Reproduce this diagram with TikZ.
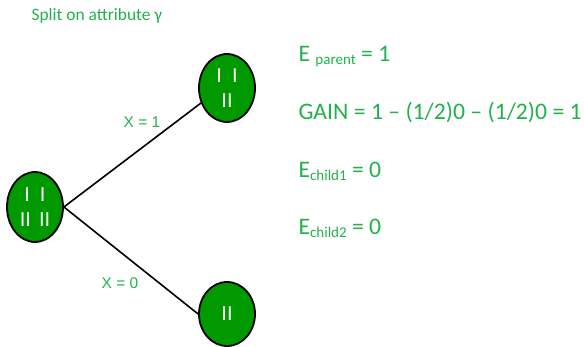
\documentclass[tikz,border=0pt]{standalone}
\usepackage{fontspec}
\usepackage{tikz}
\usetikzlibrary{shapes.geometric}
\setmainfont{Carlito}
\newfontfamily\arialfont{Liberation Sans}
\definecolor{leafgreen}{RGB}{0,153,0}
\definecolor{textgreen}{RGB}{34,177,76}

\tikzset{
  leaf/.style={ellipse, draw=black, line width=1.8pt, fill=leafgreen, inner sep=0pt,
    minimum width=56pt, minimum height=68pt, text=white, align=center,
    font=\arialfont\fontsize{20}{25}\selectfont},
  branch/.style={text=textgreen, font=\arialfont\fontsize{15.5}{18}\selectfont},
  calc/.style={anchor=base west, text=textgreen, font=\fontsize{23.7}{28}\selectfont}
}
\newcommand{\lowsub}[1]{\raisebox{-3pt}{\fontsize{15}{15}\selectfont #1}}

\begin{document}
\begin{tikzpicture}[x=1pt, y=-1pt]
  \useasboundingbox (0,0) rectangle (584,347);
  \node[anchor=base west, text=textgreen, font=\fontsize{17.4}{20}\selectfont] (title) at (28,21) {Split on attribute γ};

  \node[leaf, minimum height=70pt] (root) at (35,207) {I\hspace{10pt}I\\II\hspace{8pt}II};
  \node[leaf] (child1) at (227,88) {I\hspace{10pt}I\\II};
  \node[leaf, minimum height=64pt] (child0) at (227,314) {II};

  \draw[line width=1.6pt] (root.east) -- (child1.210);
  \draw[line width=1.6pt] (root.east) -- (child0.west);
  \node[branch] (lbl1) at (142,122) {X = 1};
  \node[branch] (lbl0) at (120,283) {X = 0};

  \node[calc] (eparent) at (295,62) {E \lowsub{parent} = 1};
  \node[calc] (gain) at (295,120) {GAIN = 1 – (1/2)0 – (1/2)0 = 1};
  \node[calc] (echild1) at (295,178) {E\lowsub{child1} = 0};
  \node[calc] (echild2) at (295,235) {E\lowsub{child2} = 0};
\end{tikzpicture}
\end{document}
